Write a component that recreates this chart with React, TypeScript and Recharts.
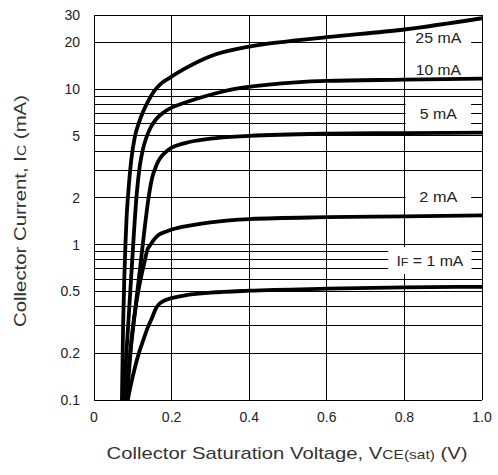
import React from 'react';
import {
  LineChart,
  Line,
  XAxis,
  YAxis,
  ReferenceLine,
  ReferenceArea,
} from 'recharts';

// ---- axes ----
const xTicks = [0, 0.2, 0.4, 0.6, 0.8, 1.0];
const xTickLabels = ['0', '0.2', '0.4', '0.6', '0.8', '1.0'];
const yTicks = [0.1, 0.2, 0.5, 1, 2, 5, 10, 20, 30];
const yGridValues = [
  0.2, 0.3, 0.4, 0.5, 0.6, 0.7, 0.8, 0.9,
  1, 2, 3, 4, 5, 6, 7, 8, 9, 10, 20, 30,
];
const xGridValues = [0.2, 0.4, 0.6, 0.8, 1.0];

// ---- series (VCE(sat) in V, IC in mA) ----
const vce25 = [0.072, 0.075, 0.078, 0.081, 0.084, 0.088, 0.096, 0.105, 0.115, 0.127, 0.14, 0.155, 0.172, 0.192, 0.235, 0.3, 0.4, 0.5, 0.6, 0.8, 1.0];
const ic25 = [0.1, 0.3, 0.6, 1.0, 1.5, 2.1, 3.5, 4.9, 6.0, 7.2, 8.4, 9.7, 10.8, 11.7, 13.6, 16.3, 18.8, 20.3, 21.6, 24.2, 28.6];

const vce10 = [0.076, 0.08, 0.085, 0.09, 0.096, 0.103, 0.11, 0.118, 0.126, 0.134, 0.145, 0.16, 0.18, 0.2, 0.235, 0.3, 0.36, 0.45, 0.6, 0.8, 1.0];
const ic10 = [0.1, 0.145, 0.23, 0.36, 0.63, 1.2, 2.1, 3.2, 4.1, 4.8, 5.6, 6.4, 7.1, 7.6, 8.2, 9.2, 10.0, 10.7, 11.3, 11.5, 11.7];

const vce5 = [0.079, 0.09, 0.1, 0.11, 0.12, 0.13, 0.14, 0.15, 0.158, 0.166, 0.176, 0.188, 0.2, 0.235, 0.3, 0.4, 0.6, 0.8, 1.0];
const ic5 = [0.1, 0.17, 0.28, 0.46, 0.75, 1.24, 1.95, 2.7, 3.1, 3.45, 3.75, 4.0, 4.2, 4.5, 4.8, 5.0, 5.17, 5.22, 5.25];

const vce2 = [0.083, 0.09, 0.097, 0.105, 0.114, 0.122, 0.13, 0.138, 0.146, 0.155, 0.168, 0.185, 0.2, 0.25, 0.3, 0.4, 0.6, 0.8, 1.0];
const ic2 = [0.1, 0.15, 0.25, 0.36, 0.5, 0.63, 0.77, 0.93, 1.0, 1.08, 1.16, 1.21, 1.25, 1.33, 1.39, 1.46, 1.5, 1.52, 1.54];

const vce1 = [0.087, 0.095, 0.105, 0.115, 0.125, 0.138, 0.15, 0.16, 0.168, 0.178, 0.19, 0.2, 0.235, 0.3, 0.4, 0.6, 0.8, 1.0];
const ic1 = [0.1, 0.125, 0.16, 0.198, 0.235, 0.29, 0.34, 0.39, 0.415, 0.432, 0.445, 0.452, 0.472, 0.49, 0.505, 0.52, 0.53, 0.535];

const seriesNames = ['25 mA', '10 mA', '5 mA', '2 mA', '1 mA'];
const seriesV = [vce25, vce10, vce5, vce2, vce1];
const seriesI = [ic25, ic10, ic5, ic2, ic1];

// ---- curve labels (white boxes) ----
const labelPre = ['25 mA', '10 mA', '5 mA', '2 mA', 'I'];
const labelSub = ['', '', '', '', 'F'];
const labelPost = ['', '', '', '', ' = 1 mA'];
const labelX1 = [0.803, 0.803, 0.803, 0.803, 0.7585];
const labelX2 = [0.972, 0.972, 0.972, 0.972, 0.973];
const labelY1 = [18.8, 12.0, 5.63, 1.746, 0.647];
const labelY2 = [24.5, 14.75, 8.52, 2.35, 0.965];
const labelWidths = [46, 45, 37, 38, 67];

const FONT = '"Liberation Sans", Arial, Helvetica, sans-serif';
const TEXT = '#222';

const BoxLabel = (props: any) => {
  const vb = props.viewBox || { x: 0, y: 0, width: 0, height: 0 };
  const cx = vb.x + vb.width / 2;
  const cy = vb.y + vb.height / 2;
  return (
    <text
      x={cx}
      y={cy}
      dy="0.36em"
      textAnchor="middle"
      fontSize={14}
      fontFamily={FONT}
      fill={TEXT}
      textLength={props.tl}
      lengthAdjust="spacingAndGlyphs"
    >
      {props.pre}
      {props.sub ? <tspan fontSize={11}>{props.sub}</tspan> : null}
      {props.post ? <tspan>{props.post}</tspan> : null}
    </text>
  );
};

const XTitle = (props: any) => {
  const vb = props.viewBox || { x: 0, y: 0, width: 0, height: 0 };
  return (
    <text
      x={vb.x + vb.width / 2 - 1}
      y={vb.y + 59}
      textAnchor="middle"
      fontSize={17}
      fontFamily={FONT}
      fill="#333"
      textLength={361}
      lengthAdjust="spacingAndGlyphs"
    >
      Collector Saturation Voltage, V<tspan fontSize={13}>CE(sat)</tspan>
      <tspan> (V)</tspan>
    </text>
  );
};

const YTitle = (props: any) => {
  const vb = props.viewBox || { x: 0, y: 0, width: 0, height: 0 };
  const cx = vb.x + 19.5;
  const cy = vb.y + vb.height / 2 + 3.5;
  return (
    <text
      x={cx}
      y={cy}
      dy="0.36em"
      textAnchor="middle"
      fontSize={17}
      fontFamily={FONT}
      fill="#333"
      textLength={232}
      lengthAdjust="spacingAndGlyphs"
      transform={`rotate(-90, ${cx}, ${cy})`}
    >
      Collector Current, I<tspan fontSize={13}>C</tspan>
      <tspan> (mA)</tspan>
    </text>
  );
};

export default function App() {
  const series = seriesNames.map((name, k) => ({
    name,
    data: seriesV[k].map((v, j) => ({ v, i: seriesI[k][j] })),
  }));

  return (
    <div style={{ position: 'absolute', left: 0, top: 0, width: 498, height: 475 }}>
      <LineChart
        width={498}
        height={475}
        margin={{ top: 15, right: 16, bottom: 0, left: 0 }}
        style={{ fontFamily: FONT }}
      >
        <XAxis
          type="number"
          dataKey="v"
          domain={[0, 1]}
          ticks={xTicks}
          tickFormatter={(v: number) => xTickLabels[xTicks.indexOf(v)] ?? String(v)}
          allowDataOverflow
          axisLine={{ stroke: '#000', strokeWidth: 1, shapeRendering: 'crispEdges' }}
          tickLine={false}
          tickMargin={6}
          height={75}
          tick={{ fill: TEXT, fontSize: 14, fontFamily: FONT }}
          label={<XTitle />}
        />
        <YAxis
          type="number"
          scale="log"
          domain={[0.1, 30]}
          ticks={yTicks}
          allowDataOverflow
          axisLine={{ stroke: '#000', strokeWidth: 1, shapeRendering: 'crispEdges' }}
          tickLine={false}
          tickMargin={8}
          width={94}
          tick={{ fill: TEXT, fontSize: 14, fontFamily: FONT }}
          label={<YTitle />}
        />
        {yGridValues.map((y) => (
          <ReferenceLine
            key={`gy-${y}`}
            y={y}
            stroke="#000"
            strokeWidth={1}
            shapeRendering="crispEdges"
            zIndex={-100}
          />
        ))}
        {xGridValues.map((x) => (
          <ReferenceLine
            key={`gx-${x}`}
            x={x}
            stroke="#000"
            strokeWidth={1}
            shapeRendering="crispEdges"
            zIndex={-100}
          />
        ))}
        {labelPre.map((pre, k) => (
          <ReferenceArea
            key={`lab-${k}`}
            x1={labelX1[k]}
            x2={labelX2[k]}
            y1={labelY1[k]}
            y2={labelY2[k]}
            fill="#fff"
            fillOpacity={1}
            stroke="none"
            ifOverflow="visible"
            zIndex={50}
            label={
              <BoxLabel
                pre={pre}
                sub={labelSub[k]}
                post={labelPost[k]}
                tl={labelWidths[k]}
              />
            }
          />
        ))}
        {series.map((s) => (
          <Line
            key={s.name}
            data={s.data}
            dataKey="i"
            name={s.name}
            type="monotone"
            stroke="#000"
            strokeWidth={3.8}
            dot={false}
            activeDot={false}
            isAnimationActive={false}
          />
        ))}
      </LineChart>
    </div>
  );
}
